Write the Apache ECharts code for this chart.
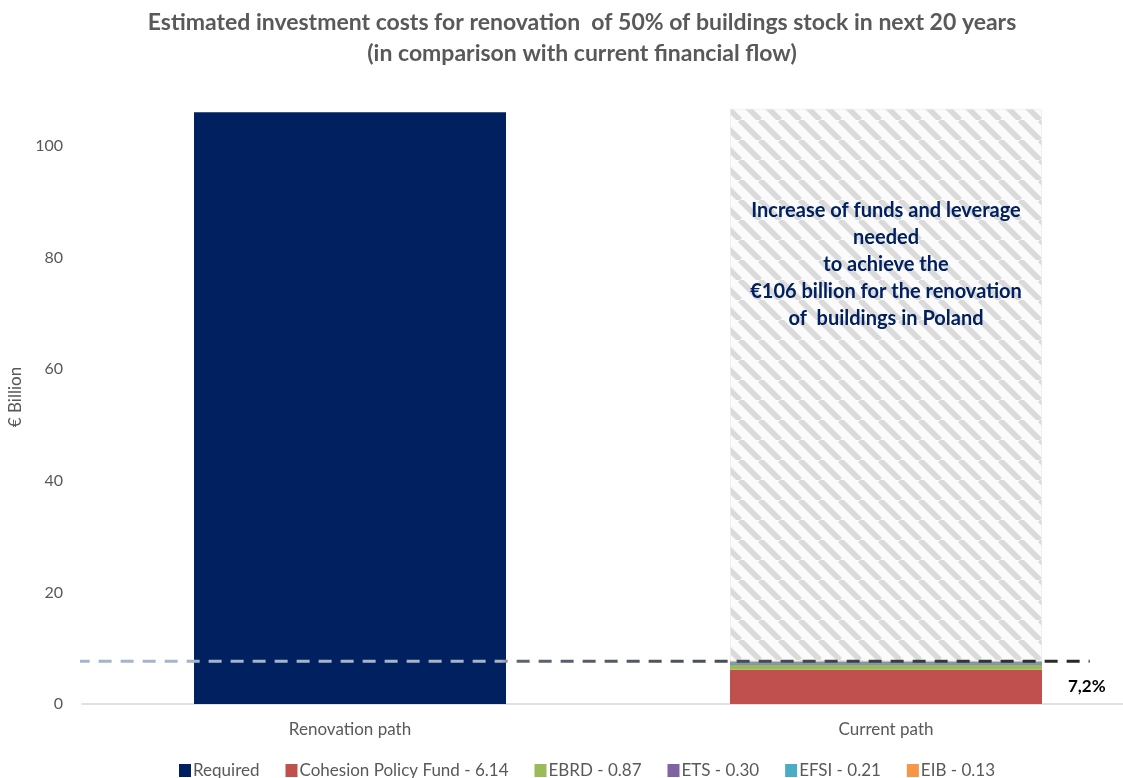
<!DOCTYPE html>
<html>
<head>
<meta charset="utf-8">
<script src="https://cdn.jsdelivr.net/npm/echarts@6/dist/echarts.min.js"></script>
<style>
  html, body { margin: 0; padding: 0; background: #ffffff; }
  #chart { width: 1123px; height: 778px; }
</style>
</head>
<body>
<div id="chart"></div>
<script>
// Categories on the x axis
const categories = ['Renovation path', 'Current path'];

// Required investment (EUR billion) for the renovation path
const requiredValue = 106;

// Current financial flows (EUR billion), stacked in the current path bar
const sourceNames = ['Cohesion Policy Fund', 'EBRD', 'ETS', 'EFSI', 'EIB'];
const sourceValues = [6.14, 0.87, 0.30, 0.21, 0.13];

// Hatched part of the current path bar: the missing funding on top of the current flows
const fundingGap = 99;

// Y axis ticks
const yMin = 0;
const yMax = 110;
const yInterval = 20;

// Note written inside the hatched bar
const gapNote = [
  'Increase of funds and leverage',
  'needed',
  'to achieve the',
  '\u20ac106 billion for the renovation',
  'of  buildings in Poland'
];

const FONT = 'Lato, "Open Sans", sans-serif';
const GREY = '#595959';
const NAVY = '#002060';
const sourceColors = ['#c0504d', '#9bbb59', '#8064a2', '#4bacc6', '#f79646'];

const currentTotal = sourceValues.reduce((a, b) => a + b, 0);
const shareText = (currentTotal / requiredValue * 100).toFixed(1).replace('.', ',') + '%';

// Diagonal hatch for the missing-funding bar
function makeHatch() {
  const s = 20;
  const c = document.createElement('canvas');
  c.width = s; c.height = s;
  const g = c.getContext('2d');
  g.fillStyle = '#fbfbfb';
  g.fillRect(0, 0, s, s);
  g.strokeStyle = '#dadada';
  g.lineWidth = 5.5;
  for (const x0 of [-s, 0, s]) {
    g.beginPath();
    g.moveTo(x0, 0);
    g.lineTo(x0 + s, s);
    g.stroke();
  }
  return c;
}

const chart = echarts.init(document.getElementById('chart'), null, { renderer: 'canvas' });

const legendLabel = (name, v) => name + ' - ' + v.toFixed(2);

const series = [];

series.push({
  name: 'Required',
  type: 'bar',
  stack: 'total',
  barWidth: 312,
  itemStyle: { color: NAVY },
  data: [requiredValue, '-']
});

sourceNames.forEach((name, i) => {
  series.push({
    name: legendLabel(name, sourceValues[i]),
    type: 'bar',
    stack: 'total',
    barWidth: 312,
    itemStyle: { color: sourceColors[i] },
    label: i === 0 ? {
      show: true,
      position: 'right',
      distance: 26,
      formatter: () => shareText,
      color: '#000000',
      fontFamily: FONT,
      fontWeight: 'bold',
      fontSize: 17
    } : { show: false },
    data: ['-', sourceValues[i]]
  });
});

series.push({
  name: 'Gap',
  type: 'bar',
  stack: 'total',
  barWidth: 312,
  itemStyle: {
    color: { image: makeHatch(), repeat: 'repeat' },
    borderColor: '#dde5f0',
    borderWidth: 1,
    borderType: 'dotted'
  },
  label: {
    show: true,
    position: 'insideTop',
    distance: 88,
    formatter: gapNote.join('\n'),
    color: NAVY,
    fontFamily: FONT,
    fontWeight: 'bold',
    fontSize: 20,
    lineHeight: 27,
    align: 'center'
  },
  emphasis: { disabled: true },
  data: ['-', fundingGap]
});

// Dashed reference line at the level of current flows, spanning both bars
const lineSpan = [-0.51, 1.38];
series.push({
  name: 'Current level',
  type: 'line',
  xAxisIndex: 1,
  yAxisIndex: 0,
  symbol: 'none',
  clip: false,
  z: 5,
  lineStyle: {
    width: 3,
    type: [13, 9],
    color: new echarts.graphic.LinearGradient(0, 0, 1, 0, [
      { offset: 0, color: '#a3b4cc' },
      { offset: 0.42, color: '#aab5c4' },
      { offset: 0.43, color: '#5d6573' },
      { offset: 1, color: '#262626' }
    ])
  },
  data: [[lineSpan[0], currentTotal], [lineSpan[1], currentTotal]]
});

chart.setOption({
  animation: false,
  backgroundColor: '#ffffff',
  title: {
    text: 'Estimated investment costs for renovation  of 50% of buildings stock in next 20 years\n(in comparison with current financial flow)',
    left: 577,
    top: 2,
    textAlign: 'center',
    textStyle: {
      fontFamily: FONT,
      fontWeight: 'bold',
      fontSize: 23,
      lineHeight: 31,
      color: GREY
    }
  },
  legend: {
    data: ['Required'].concat(sourceNames.map((n, i) => legendLabel(n, sourceValues[i]))),
    left: 174,
    top: 757,
    icon: 'rect',
    itemWidth: 12,
    itemHeight: 13,
    itemGap: 26,
    textStyle: { fontFamily: FONT, fontSize: 17, color: GREY, padding: [0, 0, 0, -3] }
  },
  grid: { left: 82, top: 90, width: 1072, height: 614, outerBoundsMode: 'none', containLabel: false },
  xAxis: [
    {
      type: 'category',
      data: categories,
      axisLine: { lineStyle: { color: '#d9d9d9', width: 1.5 } },
      axisTick: { show: false },
      axisLabel: { color: GREY, fontFamily: FONT, fontSize: 17, margin: 17 }
    },
    {
      type: 'value',
      min: -0.5,
      max: 1.5,
      show: false
    }
  ],
  yAxis: {
    type: 'value',
    min: yMin,
    max: yMax,
    interval: yInterval,
    name: '\u20ac Billion',
    nameLocation: 'middle',
    nameGap: 53,
    nameTextStyle: { color: GREY, fontFamily: FONT, fontSize: 17 },
    axisLine: { show: false },
    axisTick: { show: false },
    splitLine: { show: false },
    axisLabel: { color: GREY, fontFamily: FONT, fontSize: 16, margin: 19, showMaxLabel: false }
  },
  series: series
});
</script>
</body>
</html>
